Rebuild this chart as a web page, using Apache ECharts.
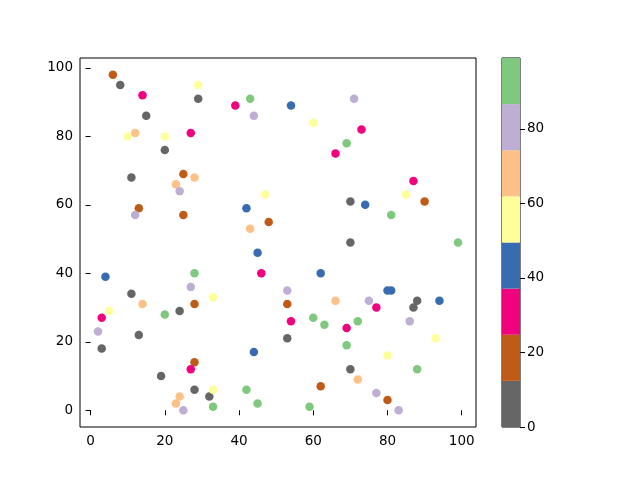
<!DOCTYPE html>
<html><head><meta charset="utf-8">
<script src="https://cdn.jsdelivr.net/npm/echarts@6/dist/echarts.min.js"></script>
<style>html,body{margin:0;padding:0;background:#fff}#c{width:640px;height:480px}</style>
</head><body><div id="c"></div>
<script>
const xs = [6,8,14,15,10,12,20,27,20,29,29,11,25,28,23,24,13,12,25,
  39,43,44,54,60,69,66,47,42,48,43,
  71,73,87,85,90,70,74,81,70,99,
  4,28,27,11,14,28,33,5,3,20,24,2,13,3,28,27,19,28,24,32,23,25,33,33,
  45,46,62,53,53,66,54,60,63,69,53,69,44,42,62,45,59,
  80,81,75,77,88,87,94,72,86,93,80,70,88,72,77,80,83];
const ys = [98,95,92,86,80,81,80,81,76,95,91,68,69,68,66,64,59,57,57,
  89,91,86,89,84,78,75,63,59,55,53,
  91,82,67,63,61,61,60,57,49,49,
  39,40,36,34,31,31,33,29,27,28,29,23,22,18,14,12,10,6,4,4,2,0,6,1,
  46,40,40,35,31,32,26,27,25,24,21,19,17,6,7,2,1,
  35,35,32,30,32,30,32,26,26,21,16,12,12,9,5,3,0];
const cs = [18,6,31,6,56,68,56,31,6,56,6,6,18,68,68,80,18,80,18,
  31,93,80,43,56,93,31,56,43,18,68,
  80,31,31,56,18,6,43,93,6,93,
  43,93,80,6,68,18,56,56,31,93,6,80,6,6,18,31,6,6,68,6,68,80,56,93,
  43,31,43,80,18,68,31,93,93,31,6,93,43,93,18,93,93,
  43,43,80,31,6,6,43,93,80,56,56,6,93,68,80,18,80];
// colour bar
const cbMax = 99;
const cbColors = ['#666666','#bf5b17','#f0027f','#386cb0','#ffff99','#fdc086','#beaed4','#7fc97f'];
const xTicks = [0,20,40,60,80,100];
const yTicks = [0,20,40,60,80,100];
const cbTicks = [0,20,40,60,80];

const step = cbMax / cbColors.length;
const pieces = cbColors.map((col,i)=>({gte:i*step, lt:(i+1)*step, color:col}));
const pts = xs.map((x,i)=>[x, ys[i], cs[i]]);
const font = {fontFamily:'DejaVu Sans', fontSize:13.5, color:'#000'};

const chart = echarts.init(document.getElementById('c'));
chart.setOption({
  animation:false,
  backgroundColor:'#fff',
  grid:[
    {left:80, top:58, width:396, height:369, show:true, borderColor:'#000', borderWidth:1, backgroundColor:'transparent'},
    {left:502, top:58, width:18, height:369, show:true, borderColor:'#000', borderWidth:1, backgroundColor:'transparent'}
  ],
  visualMap:{show:false, type:'piecewise', dimension:2, seriesIndex:0, pieces:pieces},
  xAxis:[
    {type:'value', gridIndex:0, min:-2.85, max:103.85, splitLine:{show:false},
     axisLine:{show:false}, axisTick:{show:true, length:5, lineStyle:{color:'#000'}, customValues:xTicks},
     axisLabel:Object.assign({margin:7, customValues:xTicks}, font)},
    {type:'category', gridIndex:1, data:['cb'], show:false}
  ],
  yAxis:[
    {type:'value', gridIndex:0, min:-4.9, max:102.9, splitLine:{show:false},
     axisLine:{show:false}, axisTick:{show:true, length:5, lineStyle:{color:'#000'}, customValues:yTicks},
     axisLabel:Object.assign({margin:7, customValues:yTicks}, font)},
    {type:'value', gridIndex:1, position:'right', min:0, max:cbMax, splitLine:{show:false},
     axisLine:{show:false}, axisTick:{show:true, length:5, lineStyle:{color:'#000'}, customValues:cbTicks},
     axisLabel:Object.assign({margin:7, customValues:cbTicks}, font)}
  ],
  series:[
    {type:'scatter', xAxisIndex:0, yAxisIndex:0, symbolSize:8.5, data:pts, itemStyle:{opacity:1}}
  ].concat(cbColors.map((col,i)=>({
    type:'bar', xAxisIndex:1, yAxisIndex:1, stack:'cb', barWidth:'100%',
    data:[step], itemStyle:{color:col}, silent:true
  })))
});
</script></body></html>
